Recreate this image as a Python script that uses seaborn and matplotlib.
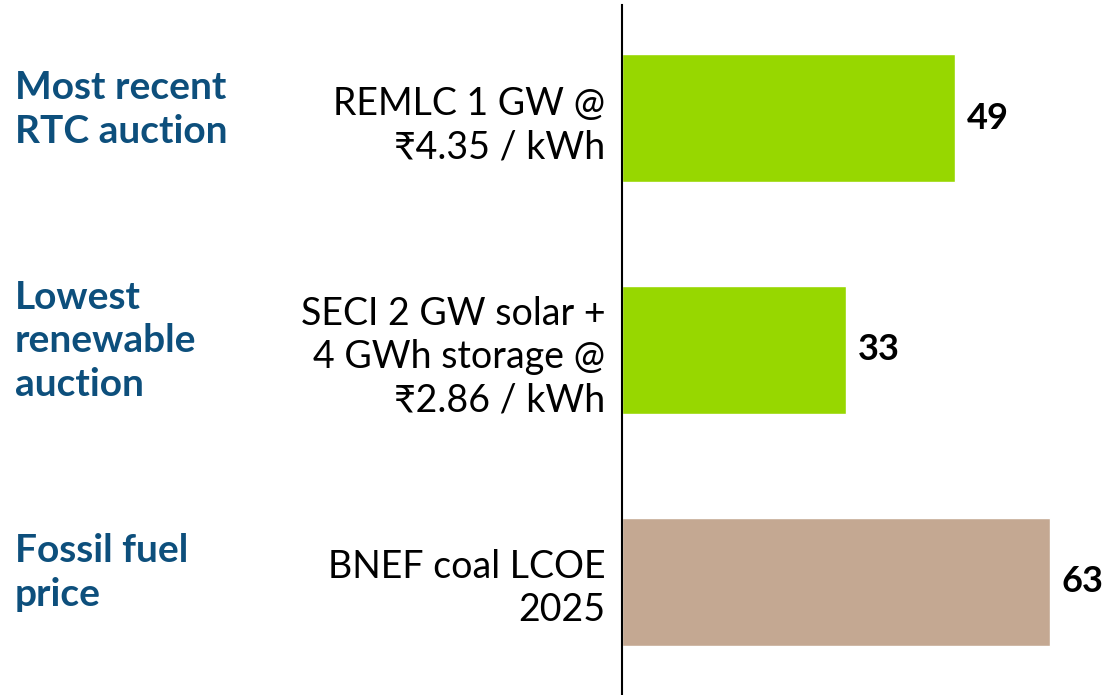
import pandas as pd
import matplotlib.pyplot as plt
import matplotlib.transforms as mtransforms
import seaborn as sns

# data
groups = ["Most recent\nRTC auction", "Lowest\nrenewable\nauction", "Fossil fuel\nprice"]
details = ["REMLC 1 GW @\n₹4.35 / kWh",
           "SECI 2 GW solar +\n4 GWh storage @\n₹2.86 / kWh",
           "BNEF coal LCOE\n2025"]
values = [49, 33, 63]
kind = ["renewable", "renewable", "fossil"]

df = pd.DataFrame({"detail": details, "value": values, "kind": kind})
colors = {"renewable": "#97D700", "fossil": "#C4A892"}

sns.set_style("white")
plt.rcParams["font.family"] = ["Lato", "DejaVu Sans"]

fig = plt.figure(figsize=(11.04, 6.95), dpi=100)
ax = fig.add_axes([622 / 1104, 0, 1 - 622 / 1104, 1 - 5 / 695])

sns.barplot(data=df, y="detail", x="value", hue="kind", palette=colors,
            orient="h", width=0.553, dodge=False, legend=False,
            saturation=1, ax=ax)

ax.set_xlim(0, (1104 - 622) / 6.8)
ax.set_ylim(2.49, -0.49)
ax.set_xlabel("")
ax.set_ylabel("")
ax.set_xticks([])
sns.despine(ax=ax, top=True, right=True, bottom=True, left=False)
ax.spines["left"].set_color("black")
ax.spines["left"].set_linewidth(1.5)

ax.tick_params(axis="y", length=0, pad=12)
for lab in ax.get_yticklabels():
    lab.set_fontsize(27)
    lab.set_color("black")
    lab.set_horizontalalignment("right")
    lab.set_linespacing(1.25)

# value labels
for i, v in enumerate(values):
    ax.text(v + 1.7, i, str(v), va="center", ha="left",
            fontsize=26, fontweight="bold", color="black")

# group labels on the far left (x in figure coords, y in data)
trans = mtransforms.blended_transform_factory(fig.transFigure, ax.transData)
for i, g in enumerate(groups):
    ax.text(15 / 1104, i - 0.04, g, transform=trans,
            va="center", ha="left", fontsize=28, fontweight="bold",
            color="#0D4F7C", linespacing=1.3)

fig.savefig("out.png", dpi=100)
